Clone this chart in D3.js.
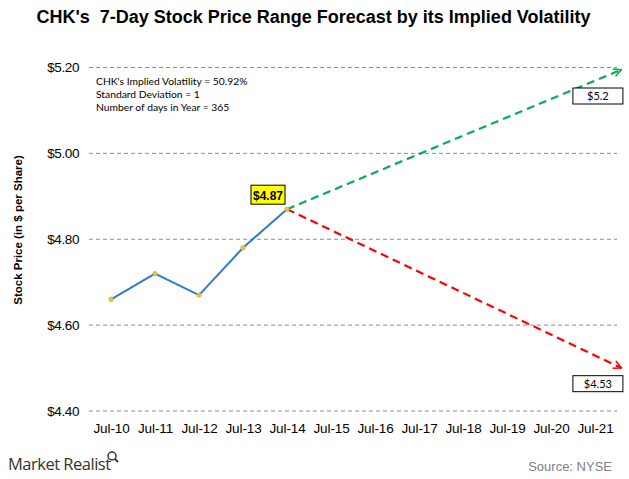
<!DOCTYPE html>
<html><head><meta charset="utf-8">
<script src="https://cdn.jsdelivr.net/npm/d3@7"></script>
<style>html,body{margin:0;padding:0;background:#fff;}svg{display:block;}</style>
</head><body>
<script>
const categories = ["Jul-10","Jul-11","Jul-12","Jul-13","Jul-14","Jul-15","Jul-16","Jul-17","Jul-18","Jul-19","Jul-20","Jul-21"];
const prices = [4.66, 4.72, 4.67, 4.78, 4.87];
const yTicks = [4.40, 4.60, 4.80, 5.00, 5.20];
const forecastStartIndex = 4;
const forecastEndIndex = 11.6;
const upperForecast = [4.87, 5.195];
const lowerForecast = [4.87, 4.50];
const upperLabel = "$5.2";
const lowerLabel = "$4.53";
const lastLabel = "$4.87";
const notes = ["CHK's Implied Volatility = 50.92%", "Standard Deviation = 1", "Number of days in Year = 365"];

const W = 629, H = 479;
const svg = d3.select("body").append("svg").attr("width", W).attr("height", H);
const defs = svg.append("defs");
function arrow(id, color){
  defs.append("marker").attr("id", id).attr("viewBox","0 0 10 10").attr("refX",9).attr("refY",5)
    .attr("markerWidth",4.5).attr("markerHeight",4.5).attr("orient","auto").attr("markerUnits","strokeWidth")
    .append("path").attr("d","M1,1 L9,5 L1,9").attr("fill","none").attr("stroke",color).attr("stroke-width",1.6);
}
arrow("ag","#00B050"); arrow("ar","#FF0000");

const pLeft = 89, pRight = 617, pTop = 67.5, pBottom = 411;
const x = d3.scaleLinear().domain([-0.5, categories.length - 0.5]).range([pLeft, pRight]);
const y = d3.scaleLinear().domain([4.40, 5.20]).range([pBottom, pTop]);

// title
svg.append("text").attr("x", 313.5).attr("y", 23).attr("text-anchor","middle")
  .style("white-space","pre")
  .attr("font-family","Liberation Sans, Arial, sans-serif").attr("font-weight","bold").attr("font-size",18)
  .attr("letter-spacing",0).text("CHK's  7-Day Stock Price Range Forecast by its Implied Volatility");

// gridlines
svg.append("g").selectAll("line").data(yTicks).join("line")
  .attr("x1", pLeft).attr("x2", pRight).attr("y1", d=>y(d)).attr("y2", d=>y(d))
  .attr("stroke","#8c8c8c").attr("stroke-width",1).attr("stroke-dasharray","4,3");

// y axis labels
const yAxis = d3.axisLeft(y).tickValues(yTicks).tickSize(0).tickPadding(0).tickFormat(d3.format("$.2f"));
const gy = svg.append("g").attr("transform", `translate(79,0)`).call(yAxis);
gy.select(".domain").remove();
gy.selectAll("text").attr("font-family","Liberation Sans, Arial, sans-serif").attr("font-size",13.5)
  .attr("fill","#000").attr("letter-spacing",-0.4);

// x axis labels
const gx = svg.append("g").attr("transform", `translate(0,${pBottom})`)
  .call(d3.axisBottom(x).tickValues(d3.range(categories.length)).tickFormat(i=>categories[i]).tickSize(0).tickPadding(12));
gx.select(".domain").remove();
gx.selectAll("text").attr("font-family","Liberation Sans, Arial, sans-serif").attr("font-size",13.5).attr("fill","#000").attr("letter-spacing",-0.1);

// y axis title
svg.append("text").attr("transform","translate(22,230) rotate(-90)").attr("text-anchor","middle")
  .attr("font-family","Liberation Sans, Arial, sans-serif").attr("font-weight","bold").attr("font-size",11.5)
  .text("Stock Price (in $ per Share)");

// notes
svg.append("g").selectAll("text").data(notes).join("text")
  .attr("x", 96).attr("y", (d,i)=>85 + i*12.8)
  .attr("font-family","Lato, Carlito, sans-serif").attr("font-size",10.3).attr("fill","#000").text(d=>d);

// forecast lines
const fl = d3.line().x(d=>x(d[0])).y(d=>y(d[1]));
svg.append("path").datum([[forecastStartIndex, upperForecast[0]],[forecastEndIndex, upperForecast[1]]])
  .attr("d", fl).attr("fill","none").attr("stroke","#00B050").attr("stroke-width",2.2)
  .attr("stroke-dasharray","8,5").attr("marker-end","url(#ag)");
svg.append("path").datum([[forecastStartIndex, lowerForecast[0]],[forecastEndIndex, lowerForecast[1]]])
  .attr("d", fl).attr("fill","none").attr("stroke","#FF0000").attr("stroke-width",2.2)
  .attr("stroke-dasharray","8,5").attr("marker-end","url(#ar)");

// price line
const line = d3.line().x((d,i)=>x(i)).y(d=>y(d));
svg.append("path").datum(prices).attr("d", line).attr("fill","none").attr("stroke","#2D7CC8").attr("stroke-width",2);
svg.append("g").selectAll("circle").data(prices).join("circle")
  .attr("cx",(d,i)=>x(i)).attr("cy",d=>y(d)).attr("r",2.3).attr("fill","#F2C12E").attr("stroke","#9BBB59").attr("stroke-width",0.6);

// last price label
const lx = x(prices.length-1), ly = y(prices[prices.length-1]);
svg.append("rect").attr("x", lx-36).attr("y", ly-24).attr("width",34).attr("height",19)
  .attr("fill","#FFFF00").attr("stroke","#000").attr("stroke-width",1);
svg.append("text").attr("x", lx-19).attr("y", ly-9.5).attr("text-anchor","middle")
  .attr("font-family","Liberation Sans, Arial, sans-serif").attr("font-weight","bold").attr("font-size",12).text(lastLabel);

// forecast labels
function boxLabel(val, txt){
  const bx = x(forecastEndIndex), by = y(val);
  svg.append("rect").attr("x", bx-48.5).attr("y", by+20.5).attr("width",50).attr("height",16)
    .attr("fill","#fff").attr("stroke","#000").attr("stroke-width",1);
  svg.append("text").attr("x", bx-23.5).attr("y", by+32.5).attr("text-anchor","middle")
    .attr("font-family","Lato, Carlito, sans-serif").attr("font-size",11).text(txt);
}
boxLabel(5.20, upperLabel);
boxLabel(4.53, lowerLabel);

// footer
const logo = svg.append("g");
logo.append("text").attr("x",8).attr("y",470).attr("font-family","Open Sans, Lato, sans-serif").attr("font-size",16.5)
  .attr("fill","#333").attr("letter-spacing",-0.5).text("Market Realist");
logo.append("circle").attr("cx",112).attr("cy",456).attr("r",4).attr("fill","none").attr("stroke","#333").attr("stroke-width",1.5);
logo.append("line").attr("x1",115).attr("y1",459).attr("x2",118).attr("y2",462).attr("stroke","#333").attr("stroke-width",1.8);
svg.append("text").attr("x",612).attr("y",471).attr("text-anchor","end")
  .attr("font-family","Liberation Sans, Arial, sans-serif").attr("font-size",13).attr("fill","#808080").text("Source: NYSE");
</script>
</body></html>
